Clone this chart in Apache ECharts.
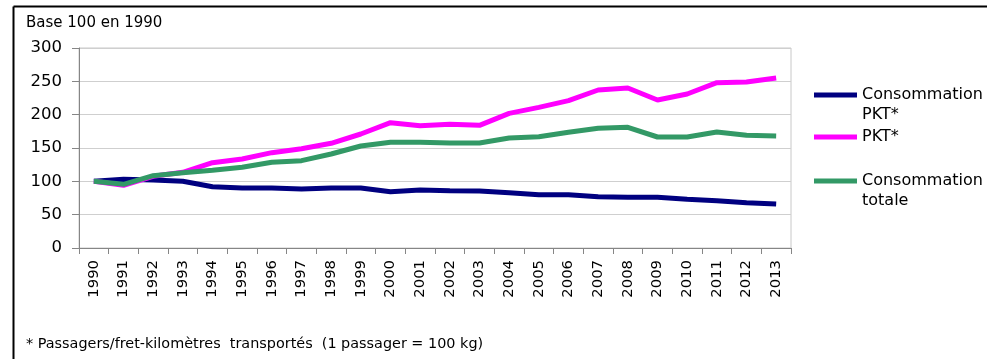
<!DOCTYPE html>
<html>
<head>
<meta charset="utf-8">
<script src="https://cdn.jsdelivr.net/npm/echarts@6/dist/echarts.min.js"></script>
<style>
html,body{margin:0;padding:0;background:#fff;}
#c{width:987px;height:359px;}
</style>
</head>
<body>
<div id="c"></div>
<script>
const years = ['1990','1991','1992','1993','1994','1995','1996','1997','1998','1999','2000','2001','2002','2003','2004','2005','2006','2007','2008','2009','2010','2011','2012','2013'];
const consoPKT = [100,103,102,100,92,90,90,88.5,90,90,84.5,87,86,85.5,83,80,80,77,76,76,73,71,68,66];
const pkt = [100,94,107.5,113.5,128,133.5,143,149,157,171,188,183.5,185.5,184,202,211,221,237,240,222,231,248,249,255];
const consoTotale = [100,95.5,108.5,113,116.5,121,128.5,131,141,153,158.5,158.5,157.5,157.5,165,167,173.5,179.5,181,166.5,166.5,174,169,168];
const yTicks = [0,50,100,150,200,250,300];

const FONT = 'DejaVu Sans';
const chart = echarts.init(document.getElementById('c'), null, {renderer:'canvas'});

function legendCfg(name, top, fmt){
  return {
    show:true, orient:'vertical', left:814, top:top, padding:0,
    itemWidth:43, itemHeight:5, icon:'rect',
    data:[name],
    formatter: fmt,
    textStyle:{fontFamily:FONT, fontSize:16, color:'#000', lineHeight:20},
    selectedMode:false
  };
}

chart.setOption({
  animation:false,
  backgroundColor:'#fff',
  grid:{left:79, right:196, top:48, bottom:111, show:true, borderColor:'#c8c8c8', borderWidth:1},
  legend:[
    legendCfg('Consommation PKT*', 65, function(){return '\nConsommation\nPKT*';}),
    legendCfg('PKT*', 127, function(){return 'PKT*';}),
    legendCfg('Consommation totale', 151, function(){return '\nConsommation\ntotale';})
  ],
  xAxis:{
    type:'category', data:years, boundaryGap:true,
    axisLine:{show:true, lineStyle:{color:'#868686', width:1}},
    axisTick:{show:true, length:6, alignWithLabel:false, interval:0, lineStyle:{color:'#868686'}},
    axisLabel:{interval:0, rotate:90, margin:12, fontFamily:FONT, fontSize:14.8, color:'#000'},
    splitLine:{show:false}
  },
  yAxis:{
    type:'value', min:yTicks[0], max:yTicks[yTicks.length-1], interval:50,
    axisLine:{show:true, lineStyle:{color:'#868686', width:1}},
    axisTick:{show:true, length:7, lineStyle:{color:'#868686'}},
    axisLabel:{margin:17, fontFamily:FONT, fontSize:16.5, color:'#000'},
    splitLine:{show:true, lineStyle:{color:'#cfcfcf', width:1}}
  },
  series:[
    {name:'Consommation PKT*', type:'line', data:consoPKT, symbol:'none', lineStyle:{color:'#000080', width:5}, itemStyle:{color:'#000080'}},
    {name:'PKT*', type:'line', data:pkt, symbol:'none', lineStyle:{color:'#ff00ff', width:5}, itemStyle:{color:'#ff00ff'}},
    {name:'Consommation totale', type:'line', data:consoTotale, symbol:'none', lineStyle:{color:'#339966', width:5}, itemStyle:{color:'#339966'}}
  ],
  graphic:[
    {type:'line', shape:{x1:13.5, y1:6.5, x2:987, y2:6.5}, style:{stroke:'#000', lineWidth:2}},
    {type:'line', shape:{x1:13.5, y1:6.5, x2:13.5, y2:359}, style:{stroke:'#000', lineWidth:2}},
    {type:'text', left:26, top:16, style:{text:'Base 100 en 1990', fontFamily:FONT, fontSize:15, fill:'#000'}},
    {type:'text', left:26, top:337, style:{text:'* Passagers/fret-kilomètres  transportés  (1 passager = 100 kg)', fontFamily:FONT, fontSize:14.4, fill:'#000'}}
  ]
});
</script>
</body>
</html>
